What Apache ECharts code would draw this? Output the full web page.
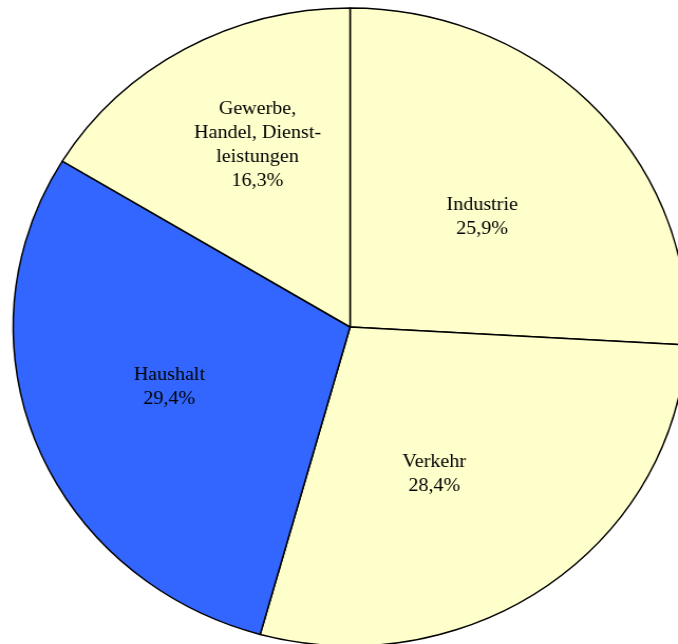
<!DOCTYPE html>
<html>
<head>
<meta charset="utf-8">
<script src="https://cdn.jsdelivr.net/npm/echarts@6/dist/echarts.min.js"></script>
<style>
    html, body { margin: 0; padding: 0; background: #fff; overflow: hidden; }
    #wrap { width: 678px; height: 644px; overflow: hidden; }
    /* the original pie is slightly wider than tall, so stretch the chart sideways */
    #chartContainer { width: 642px; height: 644px; transform: scaleX(1.056); transform-origin: 0 0; }
</style>
</head>
<body>
<div id="wrap"><div id="chartContainer"></div></div>
<script>
// Anteile in Prozent, im Uhrzeigersinn ab 12 Uhr
var sectors = ["Industrie", "Verkehr", "Haushalt", "Gewerbe, Handel, Dienstleistungen"];
var labelNames = ["Industrie", "Verkehr", "Haushalt", "Gewerbe,\nHandel, Dienst-\nleistungen"];
var shares = [25.9, 28.4, 29.4, 16.3];
var sliceColors = ["#FFFFCC", "#FFFFCC", "#3366FF", "#FFFFCC"];
// label nudges, like excel puts them
var labelOffsets = [[7, 2], [-15, 15], [-20, 0], [-8, -40]];

var dom = document.getElementById("chartContainer");
var myChart = echarts.init(dom);

var pieData = [];
for (var i = 0; i < sectors.length; i++) {
    pieData.push({
        name: sectors[i],
        value: shares[i],
        itemStyle: { color: sliceColors[i] },
        label: { offset: labelOffsets[i] }
    });
}

var option = {
    animation: false,
    series: [{
        type: 'pie',
        center: [331.5, 327],
        radius: 319,
        startAngle: 90,
        clockwise: true,
        avoidLabelOverlap: false,
        itemStyle: {
            borderColor: '#000',
            borderWidth: 1.5
        },
        label: {
            show: true,
            position: 'inside',
            color: '#000',
            fontFamily: 'Liberation Serif',
            fontSize: 19,
            lineHeight: 24,
            align: 'center',
            formatter: function (p) {
                return labelNames[p.dataIndex] + '\n' + p.value.toFixed(1).replace('.', ',') + '%';
            }
        },
        labelLine: { show: false },
        emphasis: { disabled: true },
        data: pieData
    }]
};
myChart.setOption(option);
</script>
</body>
</html>
